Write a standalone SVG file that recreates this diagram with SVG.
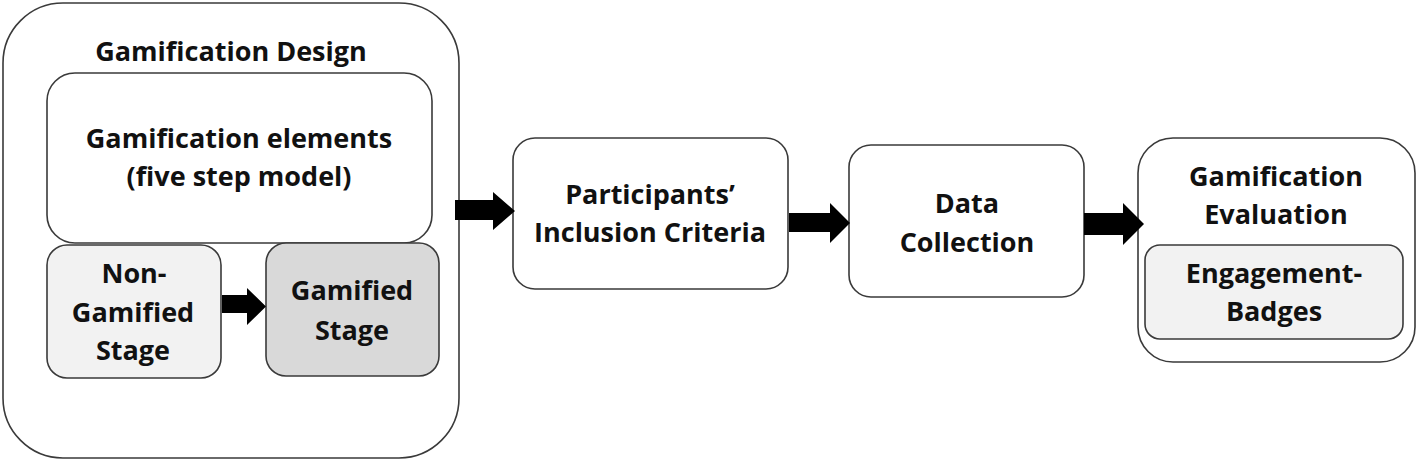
<svg xmlns="http://www.w3.org/2000/svg" width="1418" height="461" viewBox="0 0 1418 461">
<defs>
<style>
.box{fill:#ffffff;stroke:#3a3a3a;stroke-width:1.6}
.light{fill:#f2f2f2;stroke:#3a3a3a;stroke-width:1.6}
.dark{fill:#d9d9d9;stroke:#3a3a3a;stroke-width:1.6}
.t{font-family:"Open Sans","Liberation Sans",sans-serif;font-weight:bold;font-size:27px;fill:#111111;text-anchor:middle;font-variant-ligatures:none}
.arrow{fill:#000000;stroke:none}
</style>
</defs>
<g id="gamification-design">
<rect class="box" x="3" y="3" width="456" height="455" rx="60" ry="60"/>
<text class="t" x="231" y="61">Gamification Design</text>
</g>
<g id="gamification-elements">
<rect class="box" x="47" y="73" width="385" height="170" rx="28" ry="28"/>
<text class="t" x="239" y="148">Gamification elements</text>
<text class="t" x="239" y="186">(five step model)</text>
</g>
<g id="non-gamified-stage">
<rect class="light" x="47" y="245" width="174" height="133" rx="20" ry="20"/>
<text class="t" x="134" y="283">Non-</text>
<text class="t" x="133" y="322">Gamified</text>
<text class="t" x="133" y="360">Stage</text>
</g>
<g id="gamified-stage">
<rect class="dark" x="266" y="243" width="173" height="133" rx="20" ry="20"/>
<text class="t" x="352" y="300">Gamified</text>
<text class="t" x="352" y="340">Stage</text>
</g>
<g id="participants">
<rect class="box" x="513" y="138" width="275" height="151" rx="22" ry="22"/>
<text class="t" x="650" y="204">Participants’</text>
<text class="t" x="650" y="242">Inclusion Criteria</text>
</g>
<g id="data-collection">
<rect class="box" x="849" y="145" width="235" height="152" rx="22" ry="22"/>
<text class="t" x="967" y="213">Data</text>
<text class="t" x="967" y="252">Collection</text>
</g>
<g id="gamification-evaluation">
<rect class="box" x="1138" y="138" width="277" height="224" rx="35" ry="35"/>
<text class="t" x="1276" y="186">Gamification</text>
<text class="t" x="1276" y="224">Evaluation</text>
</g>
<g id="engagement-badges">
<rect class="light" x="1145" y="245" width="258" height="94" rx="15" ry="15"/>
<text class="t" x="1274" y="283">Engagement-</text>
<text class="t" x="1274" y="321">Badges</text>
</g>
<g id="connectors">
<polygon class="arrow" points="222,295 247,295 247,288 266,306.5 247,325 247,313 222,313"/>
<polygon class="arrow" points="455,200 493,200 493,192 515,211 493,230 493,220 455,220"/>
<polygon class="arrow" points="789,213 830,213 830,203 850,223 830,243 830,232 789,232"/>
<polygon class="arrow" points="1084,213 1123,213 1123,203 1144,224 1123,245 1123,235 1084,235"/>
</g>
</svg>
